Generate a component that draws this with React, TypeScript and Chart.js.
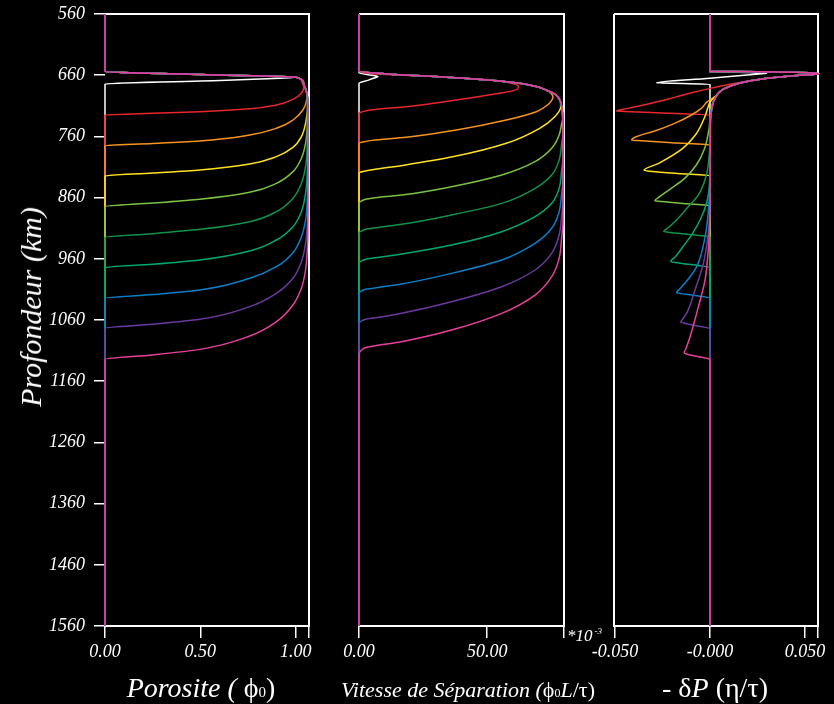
import React, { useEffect, useRef } from 'react';
import { Chart, registerables } from 'chart.js';

Chart.register(...registerables);

// ---------- shared axis data ----------
const DEPTH_MIN = 560;
const DEPTH_MAX = 1560;
const DEPTH_TICKS = [560, 660, 760, 860, 960, 1060, 1160, 1260, 1360, 1460, 1560];

const SERIES_NAMES = ['t0', 't1', 't2', 't3', 't4', 't5', 't6', 't7', 't8', 't9'];
const SERIES_COLORS = ['#ffffff', '#e8262b', '#f7941e', '#ffe11f', '#7cc242', '#12924a', '#00a870', '#0c7fc8', '#6a3a9c', '#e8409a'];

// ---------- panel 1 : porosity (x = phi, y = depth km) ----------
const POR_TICKS = [0, 0.5, 1.0, 1.07];
const POR_TICK_LABELS = ['0.00', '0.50', '1.00', ''];
const POR_TOP = [[0, 560], [0, 654.2], [0.5, 658.9], [1.003, 663.5]];
const POR_CORNER = [[1.042, 673.3], [1.059, 689.6], [1.063, 705]];
const POR_WHITE = [[0.92, 665], [0.5, 669.6], [0, 674.4], [0, 1560]];
const POR_RED = [[1.03, 669], [1.042, 679.8], [1.03, 689.6], [0.986, 699.4], [0.899, 708.7], [0.759, 714.7], [0.497, 719.6], [0.25, 722.3], [0, 725], [0, 1560]];
const POR_ORANGE = [[1.042, 673.3], [1.059, 689.6], [1.056, 703.2], [1.038, 716.9], [0.986, 733.2], [0.899, 746.8], [0.759, 757.7], [0.497, 767.5], [0.25, 771.5], [0, 775.2], [0, 1560]];
const POR_YELLOW = [[1.063, 712], [1.059, 725], [1.052, 738.7], [1.03, 760.4], [0.986, 777.9], [0.899, 793.1], [0.759, 805.1], [0.497, 815], [0.25, 820], [0, 824.7], [0, 1560]];
const POR_LGREEN = [[1.063, 730], [1.061, 744.1], [1.052, 771.3], [1.03, 795.8], [0.986, 817.6], [0.899, 836.7], [0.759, 851.4], [0.497, 862.8], [0.25, 869], [0, 874.8], [0, 1560]];
const POR_GREEN = [[1.063, 760], [1.061, 776.8], [1.052, 809.5], [1.03, 836.7], [0.986, 861.2], [0.899, 883], [0.759, 899.3], [0.497, 911.9], [0.25, 919], [0, 925], [0, 1560]];
const POR_TEAL = [[1.063, 795], [1.062, 814.9], [1.052, 853], [1.03, 883], [0.986, 907.5], [0.899, 929.3], [0.759, 947.3], [0.497, 962], [0.25, 969], [0, 974.5], [0, 1560]];
const POR_BLUE = [[1.063, 835], [1.062, 858.5], [1.052, 896.6], [1.03, 923.9], [0.986, 950], [0.899, 972.9], [0.759, 991.9], [0.497, 1011], [0.25, 1018.5], [0, 1024.6], [0, 1560]];
const POR_PURPLE = [[1.063, 870], [1.062, 896.6], [1.052, 934.7], [1.03, 964.7], [0.986, 991.9], [0.899, 1016.5], [0.759, 1038.2], [0.497, 1058.9], [0.25, 1067], [0, 1073.6], [0, 1560]];
const POR_PINK = [[1.064, 910], [1.062, 940.2], [1.052, 978.3], [1.03, 1008.3], [0.986, 1035.5], [0.899, 1062.8], [0.759, 1086.2], [0.497, 1108], [0.25, 1117], [0, 1124.3], [0, 1560]];

// ---------- panel 2 : separation velocity (x in 1e-3 units) ----------
const VEL_TICKS = [0, 50, 80];
const VEL_TICK_LABELS = ['0.00', '50.00', ''];
const VEL_TOP = [[0, 560], [0, 653.5], [10, 657.5], [36, 663.8], [55.7, 669.8], [64, 673.8], [70, 679.3]];
const VEL_TOP2 = [[73.1, 684.5], [75.7, 689], [77.5, 695], [78.6, 703], [79.2, 714], [79.5, 730]];
const VEL_WHITE = [[0, 560], [0, 655.9], [3.7, 659.1], [7.4, 662.4], [6.8, 663.3], [3.7, 668], [0, 673.3], [0, 1560]];
const VEL_RED = [[0, 560], [0, 653.5], [5.4, 657.6], [31.4, 662.6], [51, 667.8], [59.5, 673], [62.2, 678.5], [62, 682], [59.5, 686], [54.9, 689.6], [38, 700.5], [18.4, 711.4], [5.2, 716.5], [1.5, 719.5], [0, 722.3], [0, 1560]];
const VEL_ORANGE = [[73.1, 684.5], [75, 690], [75.7, 696], [75.2, 701], [74, 707], [69.2, 719.6], [57.5, 733.2], [38, 749.5], [18.4, 761.5], [5.2, 766.5], [1.5, 769], [0, 771.3], [0, 1560]];
const VEL_YELLOW = [[73.1, 684.5], [75.7, 689], [77.5, 695], [78.6, 703], [78.7, 712], [76.4, 727.8], [70.5, 746.8], [57.5, 771.3], [37, 793], [17.5, 807], [5.2, 814.5], [1.5, 817.5], [0, 820.3], [0, 1560]];
const VEL_LGREEN = [[79.1, 738.7], [78.1, 757.7], [75.2, 779.5], [68.7, 801.3], [55.7, 823.1], [36.1, 842.2], [16.6, 855.8], [8, 859.4], [3, 862.4], [1, 865.4], [0, 869.4], [0, 1560]];
const VEL_GREEN = [[79.6, 755], [79.1, 771.3], [78.1, 798.6], [75.2, 823.1], [68.7, 844.9], [55.7, 869.4], [36.1, 888.4], [16.6, 903.7], [8, 908.4], [3, 911.4], [1, 914.4], [0, 918.4], [0, 1560]];
const VEL_TEAL = [[79.6, 795], [79.1, 814.9], [78.1, 844.9], [75.2, 869.4], [68.7, 891.2], [55.7, 915.7], [36.1, 937.5], [16.6, 952.2], [8, 957.4], [3, 960.4], [1, 963.4], [0, 967.4], [0, 1560]];
const VEL_BLUE = [[79.6, 830], [79.1, 853], [78.1, 883], [75.2, 910.2], [68.7, 934.8], [55.7, 962], [36.1, 983.8], [16.6, 1001.2], [8, 1006.5], [3, 1009.5], [1, 1012.5], [0, 1016.5], [0, 1560]];
const VEL_PURPLE = [[79.6, 865], [79.1, 888.4], [78.1, 921.1], [75.2, 951.1], [68.7, 978.3], [55.7, 1005.6], [36.1, 1030.1], [16.6, 1049.1], [8, 1055.5], [3, 1058.5], [1, 1061.5], [0, 1065.5], [0, 1560]];
const VEL_PINK = [[79.6, 900], [79.1, 923.9], [78.1, 959.3], [75.2, 989.2], [68.7, 1019.2], [55.7, 1049.1], [36.1, 1076.4], [16.6, 1095.4], [8, 1101], [3, 1104.5], [1, 1109], [0, 1117.2], [0, 1560]];

// ---------- panel 3 : - delta P ----------
const DP_TICKS = [-0.05, 0, 0.05, 0.0568];
const DP_TICK_LABELS = ['-0.050', '-0.000', '0.050', ''];
const DP_TOP = [[0, 560], [0, 653.8], [0.025, 654.3], [0.045, 655.3], [0.054, 656.3], [0.057, 657.6], [0.054, 659], [0.0456, 660.6], [0.029, 665.5]];
const DP_TOP2 = [[0.0158, 672.7], [0.007, 682.8]];
const DP_TOP3 = [[0.0026, 697.8], [0.0009, 715.5], [0.0002, 735]];
const DP_WHITE = [[0, 560], [0, 653.8], [0.015, 655.2], [0.0298, 656.9], [0.027, 657.6], [0, 664.8], [-0.0281, 672.2], [-0.025, 672.6], [0, 674.9], [0, 1560]];
const DP_RED = [[0.02, 669.5], [0.0077, 676.5], [0, 681.5], [-0.0081, 687.5], [-0.0186, 696.2], [-0.0326, 707.2], [-0.0432, 714.2], [-0.0493, 718.5], [-0.045, 719.2], [-0.025, 721.8], [0, 725], [0, 1560]];
const DP_ORANGE = [[0.0026, 695], [0, 700.5], [-0.0014, 703.3], [-0.0046, 714.2], [-0.0098, 725], [-0.0186, 738.7], [-0.0291, 751.2], [-0.0388, 760.5], [-0.0412, 766], [-0.038, 766.8], [-0.02, 770.5], [0, 774.1], [0, 1560]];
const DP_YELLOW = [[0.003, 694], [0, 704], [-0.001, 712], [-0.003, 730], [-0.0075, 757], [-0.0145, 780], [-0.027, 804], [-0.0347, 815.5], [-0.032, 816.8], [-0.017, 820.5], [0, 824.2], [0, 1560]];
const DP_LGREEN = [[0.0026, 697.8], [0.0005, 715], [0, 730], [-0.0005, 746.8], [-0.0028, 779.5], [-0.0072, 806.8], [-0.0133, 828.5], [-0.0204, 844.9], [-0.0265, 858.5], [-0.029, 865], [-0.027, 866], [-0.014, 869.5], [0, 873.2], [0, 1560]];
const DP_GREEN = [[0, 760], [-0.0004, 790], [-0.0019, 823], [-0.006, 855], [-0.0115, 875], [-0.0165, 893], [-0.0215, 908], [-0.0243, 915.2], [-0.022, 916.5], [-0.012, 920], [0, 923.9], [0, 1560]];
const DP_TEAL = [[0, 780], [-0.0002, 834], [-0.0016, 866.7], [-0.005, 895], [-0.0095, 920], [-0.0142, 940], [-0.0182, 956.5], [-0.0207, 964.5], [-0.019, 965.8], [-0.01, 969.5], [0, 974.5], [0, 1560]];
const DP_BLUE = [[0, 820], [-0.0008, 880], [-0.0026, 923.9], [-0.007, 972.9], [-0.0132, 1000], [-0.0162, 1010], [-0.0176, 1015], [-0.016, 1016.5], [-0.008, 1020], [0, 1024.6], [0, 1560]];
const DP_PURPLE = [[0, 850], [-0.0008, 915], [-0.0035, 967.4], [-0.0079, 1011], [-0.0123, 1049.1], [-0.0145, 1059], [-0.0154, 1063.6], [-0.014, 1065], [-0.007, 1069.5], [0, 1074.7], [0, 1560]];
const DP_PINK = [[0, 870], [-0.0008, 940], [-0.0026, 994.6], [-0.0061, 1038.2], [-0.0105, 1087.3], [-0.0126, 1106.3], [-0.0136, 1114], [-0.0125, 1115.5], [-0.006, 1120], [0, 1124.5], [0, 1560]];

// ---------- assemble curves ----------
const POROSITY_CURVES = [
  [...POR_TOP, ...POR_WHITE],
  [...POR_TOP, ...POR_RED],
  [...POR_TOP, ...POR_ORANGE],
  [...POR_TOP, ...POR_CORNER, ...POR_YELLOW],
  [...POR_TOP, ...POR_CORNER, ...POR_LGREEN],
  [...POR_TOP, ...POR_CORNER, ...POR_GREEN],
  [...POR_TOP, ...POR_CORNER, ...POR_TEAL],
  [...POR_TOP, ...POR_CORNER, ...POR_BLUE],
  [...POR_TOP, ...POR_CORNER, ...POR_PURPLE],
  [...POR_TOP, ...POR_CORNER, ...POR_PINK],
];
const VELOCITY_CURVES = [
  VEL_WHITE,
  VEL_RED,
  [...VEL_TOP, ...VEL_ORANGE],
  [...VEL_TOP, ...VEL_YELLOW],
  [...VEL_TOP, ...VEL_TOP2, ...VEL_LGREEN],
  [...VEL_TOP, ...VEL_TOP2, ...VEL_GREEN],
  [...VEL_TOP, ...VEL_TOP2, ...VEL_TEAL],
  [...VEL_TOP, ...VEL_TOP2, ...VEL_BLUE],
  [...VEL_TOP, ...VEL_TOP2, ...VEL_PURPLE],
  [...VEL_TOP, ...VEL_TOP2, ...VEL_PINK],
];
const PRESSURE_CURVES = [
  DP_WHITE,
  [...DP_TOP, ...DP_RED],
  [...DP_TOP, ...DP_TOP2, ...DP_ORANGE],
  [...DP_TOP, ...DP_TOP2, ...DP_YELLOW],
  [...DP_TOP, ...DP_TOP2, ...DP_LGREEN],
  [...DP_TOP, ...DP_TOP2, ...DP_TOP3, ...DP_GREEN],
  [...DP_TOP, ...DP_TOP2, ...DP_TOP3, ...DP_TEAL],
  [...DP_TOP, ...DP_TOP2, ...DP_TOP3, ...DP_BLUE],
  [...DP_TOP, ...DP_TOP2, ...DP_TOP3, ...DP_PURPLE],
  [...DP_TOP, ...DP_TOP2, ...DP_TOP3, ...DP_PINK],
];

const FONT = '"Liberation Serif", "Times New Roman", serif';
const W = 834;
const H = 704;
const PLOT_TOP = 14;
const PLOT_BOTTOM = 626;
const X_AXIS_H = 40;
const Y_AXIS_W = 95;

type Panel = {
  curves: number[][][];
  xMin: number;
  xMax: number;
  ticks: number[];
  labels: string[];
  left: number;
  right: number;
  showY: boolean;
  frameLeft: boolean;
};

const PANELS: Panel[] = [
  { curves: POROSITY_CURVES, xMin: 0, xMax: 1.07, ticks: POR_TICKS, labels: POR_TICK_LABELS, left: 105, right: 309, showY: true, frameLeft: false },
  { curves: VELOCITY_CURVES, xMin: 0, xMax: 80, ticks: VEL_TICKS, labels: VEL_TICK_LABELS, left: 359, right: 564, showY: false, frameLeft: false },
  { curves: PRESSURE_CURVES, xMin: -0.0505, xMax: 0.0568, ticks: DP_TICKS, labels: DP_TICK_LABELS, left: 614, right: 818, showY: false, frameLeft: true },
];

function makeFramePlugin(drawLeft: boolean) {
  return {
    id: 'frame',
    beforeDatasetsDraw(chart: any) {
      const { ctx, chartArea } = chart;
      const { left, top, right, bottom } = chartArea;
      ctx.save();
      ctx.strokeStyle = '#ffffff';
      ctx.lineWidth = 2;
      ctx.beginPath();
      ctx.moveTo(left, top);
      ctx.lineTo(right, top);
      ctx.lineTo(right, bottom);
      ctx.lineTo(left, bottom);
      if (drawLeft) ctx.lineTo(left, top);
      ctx.stroke();
      ctx.restore();
    },
  };
}

function buildConfig(p: Panel): any {
  const n = p.curves.length;
  return {
    type: 'line',
    data: {
      datasets: p.curves.map((c, i) => ({
        label: SERIES_NAMES[i],
        data: c.map(([x, y]) => ({ x, y })),
        borderColor: SERIES_COLORS[i],
        borderWidth: 1.5,
        pointRadius: 0,
        fill: false,
        clip: 4,
        cubicInterpolationMode: 'monotone',
        order: n - 1 - i,
      })),
    },
    options: {
      animation: false,
      responsive: false,
      devicePixelRatio: 1,
      events: [],
      indexAxis: 'y',
      layout: {
        autoPadding: false,
        padding: {
          left: p.showY ? p.left - Y_AXIS_W : p.left,
          right: W - p.right,
          top: PLOT_TOP,
          bottom: H - PLOT_BOTTOM - X_AXIS_H,
        },
      },
      plugins: { legend: { display: false }, tooltip: { enabled: false } },
      scales: {
        x: {
          type: 'linear',
          min: p.xMin,
          max: p.xMax,
          afterBuildTicks: (s: any) => { s.ticks = p.ticks.map((v) => ({ value: v })); },
          afterFit: (s: any) => { s.height = X_AXIS_H; s.paddingLeft = 0; s.paddingRight = 0; },
          ticks: {
            callback: (_v: any, i: number) => p.labels[i] ?? '',
            color: '#ffffff',
            font: { family: FONT, size: 18, style: 'italic' },
            padding: 3,
            autoSkip: false,
            maxRotation: 0,
            minRotation: 0,
          },
          grid: { display: true, drawOnChartArea: false, drawTicks: true, tickLength: 12, color: '#ffffff', lineWidth: 1.5 },
          border: { display: false },
        },
        y: {
          type: 'linear',
          reverse: true,
          min: DEPTH_MIN,
          max: DEPTH_MAX,
          display: p.showY,
          afterBuildTicks: (s: any) => { s.ticks = DEPTH_TICKS.map((v) => ({ value: v })); },
          afterFit: (s: any) => {
            s.width = p.showY ? Y_AXIS_W : 0;
            s.paddingTop = 0;
            s.paddingBottom = 0;
          },
          ticks: {
            callback: (v: any) => String(v),
            color: '#ffffff',
            font: { family: FONT, size: 18, style: 'italic' },
            padding: 9,
            autoSkip: false,
          },
          grid: { display: true, drawOnChartArea: false, drawTicks: true, tickLength: 11, color: '#ffffff', lineWidth: 1.5 },
          border: { display: false },
        },
      },
    },
    plugins: [makeFramePlugin(p.frameLeft)],
  };
}

const centered = (left: number, top: number): React.CSSProperties => ({
  position: 'absolute',
  left,
  top,
  transform: 'translate(-50%, -50%)',
  whiteSpace: 'nowrap',
  color: '#ffffff',
  fontFamily: FONT,
  lineHeight: 1,
});

export default function App() {
  const r1 = useRef<HTMLCanvasElement>(null);
  const r2 = useRef<HTMLCanvasElement>(null);
  const r3 = useRef<HTMLCanvasElement>(null);

  useEffect(() => {
    Chart.defaults.font.family = FONT;
    const refs = [r1, r2, r3];
    const charts = PANELS.map((p, i) => new Chart(refs[i].current as HTMLCanvasElement, buildConfig(p)));
    return () => charts.forEach((c) => c.destroy());
  }, []);

  const canvasStyle: React.CSSProperties = { position: 'absolute', left: 0, top: 0 };

  return (
    <div style={{ position: 'fixed', left: 0, top: 0, width: W, height: H, background: '#000000', overflow: 'hidden' }}>
      <canvas ref={r1} width={W} height={H} style={canvasStyle} />
      <canvas ref={r2} width={W} height={H} style={canvasStyle} />
      <canvas ref={r3} width={W} height={H} style={canvasStyle} />

      <div style={{ ...centered(31, 307), transform: 'translate(-50%, -50%) rotate(-90deg)', fontSize: 30, fontStyle: 'italic' }}>
        Profondeur (km)
      </div>

      <div style={{ ...centered(201, 688), fontSize: 28 }}>
        <span style={{ fontStyle: 'italic' }}>Porosite ( </span>
        <span>ϕ</span>
        <span style={{ fontSize: 15 }}>0</span>
        <span>)</span>
      </div>

      <div style={{ ...centered(468, 690), fontSize: 22 }}>
        <span style={{ fontStyle: 'italic' }}>Vitesse de Séparation (</span>
        <span>ϕ</span>
        <span style={{ fontSize: 12 }}>0</span>
        <span style={{ fontStyle: 'italic' }}>L</span>
        <span>/τ)</span>
      </div>

      <div style={{ ...centered(715, 688), fontSize: 28 }}>
        <span>- δ</span>
        <span style={{ fontStyle: 'italic' }}>P</span>
        <span> (η/τ)</span>
      </div>

      <div style={{ position: 'absolute', left: 567, top: 627, whiteSpace: 'nowrap', color: '#ffffff', fontFamily: FONT, fontStyle: 'italic', fontSize: 17, lineHeight: 1 }}>
        *10<span style={{ fontSize: 9, verticalAlign: 'top', marginLeft: 2 }}>-3</span>
      </div>
    </div>
  );
}
